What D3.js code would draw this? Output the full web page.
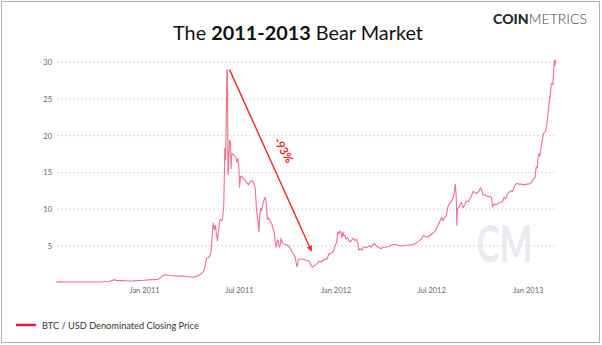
<!DOCTYPE html>
<html><head><meta charset="utf-8">
<script src="https://cdn.jsdelivr.net/npm/d3@7"></script>
<style>html,body{margin:0;padding:0;background:#fff;}svg{display:block;}</style>
</head><body>
<svg id="c" width="602" height="345"></svg>
<script>
const dates = ["2010-07-18","2010-07-25","2010-08-10","2010-09-01","2010-09-20","2010-10-05","2010-10-15","2010-10-28","2010-11-06","2010-11-10","2010-11-20","2010-12-05","2010-12-20","2011-01-01","2011-01-15","2011-01-28","2011-02-05","2011-02-10","2011-02-20","2011-03-01","2011-03-15","2011-03-25","2011-04-04","2011-04-12","2011-04-20","2011-04-25","2011-04-28","2011-04-30","2011-05-04","2011-05-08","2011-05-10","2011-05-12","2011-05-13","2011-05-15","2011-05-17","2011-05-19","2011-05-21","2011-05-23","2011-05-25","2011-05-27","2011-05-29","2011-05-31","2011-06-01","2011-06-02","2011-06-03","2011-06-04","2011-06-05","2011-06-06","2011-06-07","2011-06-08","2011-06-09","2011-06-10","2011-06-11","2011-06-12","2011-06-13","2011-06-14","2011-06-15","2011-06-16","2011-06-17","2011-06-19","2011-06-22","2011-06-25","2011-06-27","2011-06-29","2011-07-01","2011-07-02","2011-07-04","2011-07-06","2011-07-09","2011-07-12","2011-07-16","2011-07-19","2011-07-22","2011-07-26","2011-07-30","2011-08-01","2011-08-03","2011-08-05","2011-08-07","2011-08-08","2011-08-09","2011-08-11","2011-08-13","2011-08-16","2011-08-18","2011-08-20","2011-08-22","2011-08-24","2011-08-26","2011-08-29","2011-09-01","2011-09-04","2011-09-06","2011-09-08","2011-09-10","2011-09-12","2011-09-14","2011-09-16","2011-09-18","2011-09-19","2011-09-22","2011-09-26","2011-09-30","2011-10-04","2011-10-08","2011-10-10","2011-10-14","2011-10-16","2011-10-19","2011-10-20","2011-10-22","2011-10-25","2011-10-29","2011-11-03","2011-11-08","2011-11-12","2011-11-15","2011-11-18","2011-11-22","2011-11-26","2011-11-30","2011-12-04","2011-12-08","2011-12-12","2011-12-16","2011-12-19","2011-12-22","2011-12-26","2011-12-29","2012-01-01","2012-01-03","2012-01-05","2012-01-07","2012-01-09","2012-01-11","2012-01-13","2012-01-15","2012-01-17","2012-01-19","2012-01-21","2012-01-24","2012-01-27","2012-01-30","2012-02-03","2012-02-07","2012-02-10","2012-02-12","2012-02-14","2012-02-17","2012-02-20","2012-02-23","2012-02-27","2012-03-02","2012-03-05","2012-03-09","2012-03-12","2012-03-15","2012-03-19","2012-03-23","2012-03-27","2012-04-01","2012-04-06","2012-04-12","2012-04-18","2012-04-22","2012-04-27","2012-05-03","2012-05-10","2012-05-18","2012-05-25","2012-06-01","2012-06-07","2012-06-12","2012-06-16","2012-06-20","2012-06-25","2012-06-30","2012-07-05","2012-07-09","2012-07-13","2012-07-16","2012-07-19","2012-07-21","2012-07-23","2012-07-26","2012-07-30","2012-08-02","2012-08-05","2012-08-08","2012-08-11","2012-08-13","2012-08-14","2012-08-16","2012-08-18","2012-08-19","2012-08-20","2012-08-22","2012-08-25","2012-08-28","2012-08-31","2012-09-03","2012-09-06","2012-09-10","2012-09-13","2012-09-16","2012-09-19","2012-09-22","2012-09-26","2012-09-30","2012-10-03","2012-10-05","2012-10-08","2012-10-11","2012-10-14","2012-10-18","2012-10-22","2012-10-24","2012-10-26","2012-10-29","2012-11-02","2012-11-06","2012-11-10","2012-11-14","2012-11-17","2012-11-20","2012-11-23","2012-11-27","2012-11-30","2012-12-03","2012-12-06","2012-12-09","2012-12-12","2012-12-15","2012-12-20","2012-12-25","2012-12-30","2013-01-03","2013-01-08","2013-01-12","2013-01-15","2013-01-17","2013-01-19","2013-01-21","2013-01-23","2013-01-24","2013-01-27","2013-01-29","2013-01-31","2013-02-02","2013-02-04","2013-02-06","2013-02-08","2013-02-10","2013-02-11","2013-02-12","2013-02-13","2013-02-15","2013-02-17","2013-02-18","2013-02-19","2013-02-21","2013-02-22","2013-02-24"];
const prices = [0.09,0.05,0.07,0.06,0.06,0.06,0.10,0.17,0.39,0.26,0.28,0.20,0.25,0.30,0.39,0.42,0.90,1.06,0.95,0.90,0.87,0.82,0.72,0.85,1.20,1.55,2.5,3.3,3.4,3.8,5.3,7.5,8.1,7.2,7.8,6.6,5.7,7.0,8.4,8.6,8.4,8.9,9.6,10.6,14.3,18.3,16.7,18.4,23.9,29.0,28.9,14.7,15.3,17.5,19.4,19.0,19.2,15.5,17.4,17.5,17.3,17.0,16.4,16.9,15.4,13.0,14.4,14.5,14.1,14.0,13.6,13.3,13.7,13.9,13.4,12.8,10.3,9.0,7.8,6.9,8.5,10.1,9.8,10.9,11.3,11.6,10.9,8.6,8.8,8.5,8.1,7.3,6.9,5.5,4.8,5.8,5.6,4.8,5.2,6.0,5.4,5.2,5.1,4.9,4.5,4.1,3.8,3.4,2.3,2.2,3.1,3.2,3.2,3.1,3.0,2.9,2.4,2.1,2.3,2.5,2.9,2.8,3.0,3.2,3.2,3.9,3.9,4.1,4.4,5.2,5.4,6.9,6.6,7.0,6.8,6.1,6.9,6.3,6.4,5.9,6.1,5.6,5.6,6.0,5.7,5.9,5.5,4.4,4.6,4.4,4.8,4.8,4.8,5.0,4.8,5.2,5.3,4.9,4.8,4.6,4.8,4.8,4.9,5.1,5.2,5.1,5.0,5.0,5.1,5.1,5.3,5.6,5.9,6.4,6.3,6.2,6.5,6.8,7.0,7.6,8.1,8.5,8.9,8.4,8.8,9.1,10.3,10.8,11.0,11.4,11.9,12.2,13.4,11.6,7.8,10.0,10.2,10.6,10.9,10.2,10.6,11.1,11.0,11.4,11.8,12.4,12.3,12.1,12.4,12.9,12.7,11.9,12.0,11.8,11.7,11.7,11.6,10.3,10.7,10.6,10.8,10.9,11.0,11.6,11.4,12.0,12.3,12.5,12.4,13.0,13.4,13.5,13.4,13.4,13.3,13.4,13.4,13.6,14.1,14.3,15.7,15.6,17.1,17.6,17.2,18.6,19.4,20.3,20.4,20.6,21.3,22.6,23.8,24.6,25.4,25.3,27.1,27.2,26.9,28.5,30.3,29.6,30.3];
const yTicks = [5,10,15,20,25,30];
const xTicks = ["2011-01-01","2011-07-01","2012-01-01","2012-07-01","2013-01-01"];
const xTickLabels = ["Jan 2011","Jul 2011","Jan 2012","Jul 2012","Jan 2013"];
const arrowFrom = {date:"2011-06-13", value:29.0};
const arrowTo = {date:"2011-11-16", value:4.3};
const arrowLabel = "-93%";
const seriesName = "BTC / USD Denominated Closing Price";

const parse = d3.utcParse("%Y-%m-%d");
const data = dates.map((d,i)=>({date:parse(d), value:prices[i]}));

const svg = d3.select("#c");
const x = d3.scaleUtc().domain([parse("2011-01-01"), parse("2013-01-01")]).range([144, 527.7]);
const y = d3.scaleLinear().domain([0,30]).range([282.5, 62.3]);

// frame
svg.append("rect").attr("x",1.5).attr("y",1.5).attr("width",598).attr("height",341)
  .attr("fill","#fff").attr("stroke","#b3b3b3").attr("stroke-width",1);

// gridlines
svg.append("g").selectAll("line").data(yTicks).join("line")
  .attr("x1",57).attr("x2",557).attr("y1",d=>y(d)).attr("y2",d=>y(d))
  .attr("stroke","#e9d3d8").attr("stroke-width",1).attr("stroke-dasharray","2,2");

// y axis labels
const yAxis = d3.axisLeft(y).tickValues(yTicks).tickSize(0).tickPadding(0);
const gy = svg.append("g").attr("transform","translate(52,0)").call(yAxis);
gy.select(".domain").remove();
gy.selectAll("text").attr("font-family","Lato").attr("font-size",7.5).attr("fill","#666");

// x axis labels
const xAxis = d3.axisBottom(x).tickValues(xTicks.map(parse)).tickFormat((d,i)=>xTickLabels[i]).tickSize(0).tickPadding(0);
const gx = svg.append("g").attr("transform","translate(0,288)").call(xAxis);
gx.select(".domain").remove();
gx.selectAll("text").attr("font-family","Lato").attr("font-size",7.5).attr("fill","#666");

// watermark
const wm = svg.append("text").attr("x",504.5).attr("y",262).attr("text-anchor","middle")
  .attr("font-family","Lato").attr("font-weight",700).attr("font-size",51)
  .attr("fill","#e9ebf1").text("CM");
wm.attr("textLength",56).attr("lengthAdjust","spacingAndGlyphs");

// line
const line = d3.line().x(d=>x(d.date)).y(d=>y(d.value));
svg.append("path").datum(data).attr("d",line).attr("fill","none")
  .attr("stroke","#f0718c").attr("stroke-width",1.1).attr("stroke-linejoin","round");

// arrow
const defs = svg.append("defs");
defs.append("marker").attr("id","ah").attr("viewBox","0 0 10 10").attr("refX",9).attr("refY",5)
  .attr("markerWidth",4).attr("markerHeight",4).attr("orient","auto")
  .append("path").attr("d","M0,0L10,5L0,10z").attr("fill","#ee2a2a");
const ax1 = x(parse(arrowFrom.date)), ay1 = y(arrowFrom.value);
const ax2 = x(parse(arrowTo.date)), ay2 = y(arrowTo.value);
svg.append("line").attr("x1",ax1).attr("y1",ay1).attr("x2",ax2).attr("y2",ay2)
  .attr("stroke","#ee2a2a").attr("stroke-width",1.4).attr("marker-end","url(#ah)");
const t = 0.447;
const mx = ax1 + (ax2-ax1)*t + 16.5, my = ay1 + (ay2-ay1)*t;
svg.append("text").attr("transform",`translate(${mx},${my}) rotate(60)`)
  .attr("text-anchor","middle").attr("dominant-baseline","middle")
  .attr("font-family","Lato").attr("font-weight",700).attr("font-size",11.5).attr("fill","#ee2a2a").text(arrowLabel);

// title
const title = svg.append("text").attr("x",298).attr("y",39.5).attr("text-anchor","middle")
  .attr("font-family","Lato").attr("font-size",22).attr("fill","#111");
title.append("tspan").text("The ");
title.append("tspan").attr("font-weight","bold").text("2011-2013");
title.append("tspan").text(" Bear Market");
{
  const w = title.node().getComputedTextLength();
  title.attr("font-size", 22*250/w);
}

// logo
const logo = svg.append("text").attr("x",587).attr("y",24).attr("text-anchor","end")
  .attr("font-family","Lato").attr("font-size",13).attr("fill","#2a2a2a");
logo.append("tspan").attr("font-weight",900).text("COIN");
logo.append("tspan").attr("font-weight",300).attr("fill","#444").text("METRICS");
{
  const w = logo.node().getComputedTextLength();
  logo.attr("font-size", 13*94/w);
}

// legend
svg.append("line").attr("x1",16).attr("x2",36).attr("y1",325).attr("y2",325)
  .attr("stroke","#e8173c").attr("stroke-width",2.5);
const lg = svg.append("text").attr("x",42).attr("y",328.5).attr("font-family","Lato")
  .attr("font-size",10.5).attr("fill","#333").text(seriesName);
{
  const w = lg.node().getComputedTextLength();
  lg.attr("font-size", 10.5*157/w);
}
</script>
</body></html>
